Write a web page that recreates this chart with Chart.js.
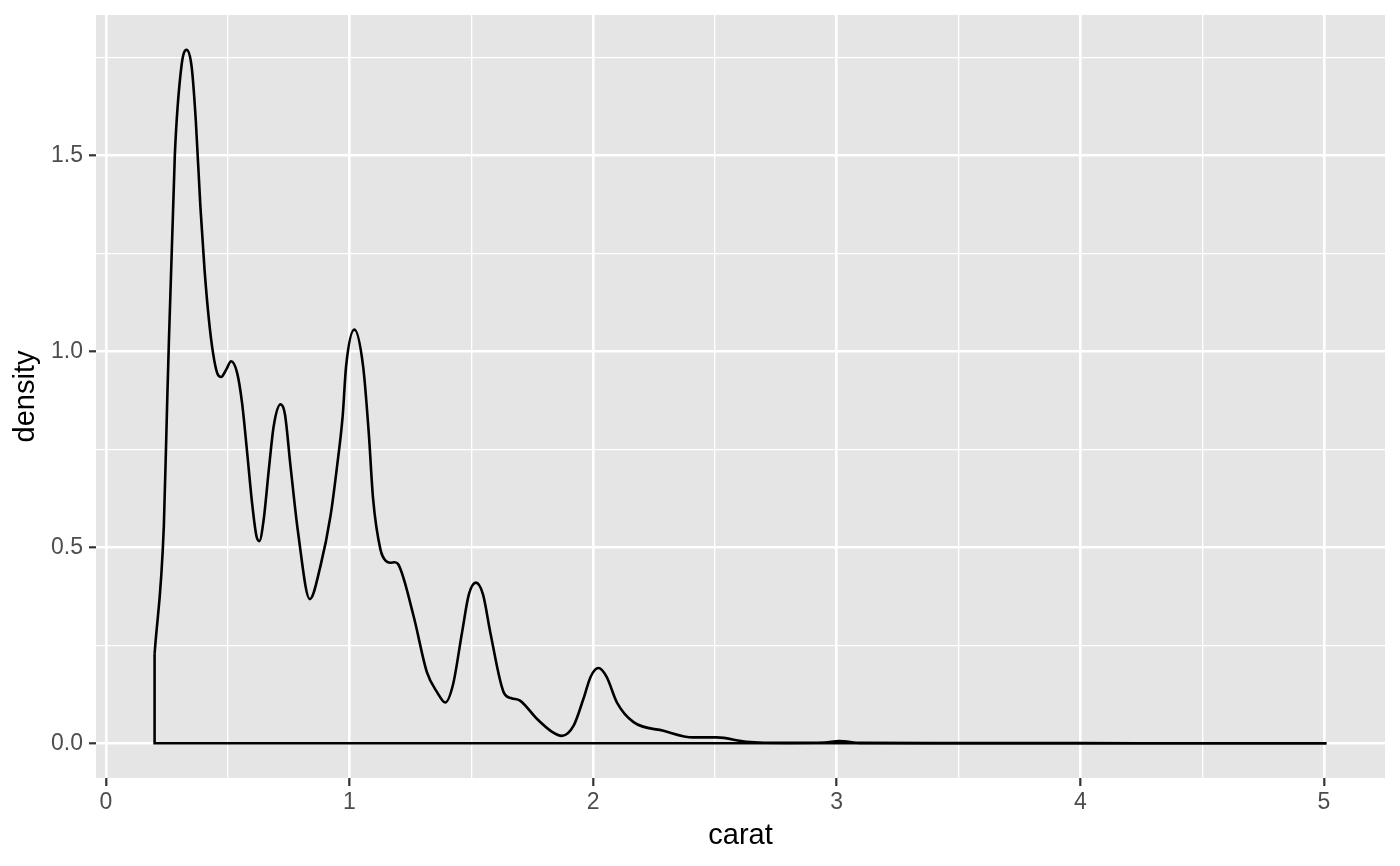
<!DOCTYPE html>
<html>
<head>
<meta charset="utf-8">
<script src="https://cdn.jsdelivr.net/npm/chart.js@4.4.1/dist/chart.umd.min.js"></script>
<style>
  html, body { margin: 0; padding: 0; background: #FFFFFF; }
</style>
</head>
<body>
<canvas id="densityChart" width="1400" height="866"></canvas>
<script>
// density estimate of carat
const carat = [0.20, 0.238, 0.252, 0.283, 0.31, 0.331, 0.352, 0.369, 0.388, 0.405, 0.423, 0.44, 0.457, 0.473, 0.495, 0.514, 0.539, 0.559, 0.58, 0.60, 0.618, 0.63, 0.648, 0.669, 0.689, 0.717, 0.735, 0.758, 0.789, 0.837, 0.881, 0.922, 0.949, 0.972, 0.986, 1.02, 1.056, 1.079, 1.097, 1.127, 1.15, 1.168, 1.185, 1.20, 1.263, 1.318, 1.36, 1.393, 1.425, 1.462, 1.49, 1.519, 1.548, 1.578, 1.633, 1.665, 1.70, 1.77, 1.83, 1.872, 1.92, 1.96, 1.99, 2.022, 2.055, 2.098, 2.166, 2.289, 2.41, 2.508, 2.63, 2.80, 2.95, 3.01, 3.1, 3.5, 4.0, 4.5, 5.01];
const density = [0.228, 0.555, 0.878, 1.50, 1.727, 1.77, 1.727, 1.591, 1.37, 1.209, 1.081, 0.996, 0.945, 0.935, 0.955, 0.975, 0.945, 0.869, 0.742, 0.614, 0.529, 0.516, 0.572, 0.699, 0.81, 0.865, 0.84, 0.707, 0.538, 0.368, 0.453, 0.58, 0.707, 0.835, 0.962, 1.056, 0.962, 0.793, 0.623, 0.495, 0.465, 0.461, 0.462, 0.457, 0.325, 0.181, 0.13, 0.104, 0.15, 0.283, 0.38, 0.41, 0.38, 0.283, 0.13, 0.115, 0.109, 0.062, 0.03, 0.019, 0.045, 0.113, 0.17, 0.192, 0.17, 0.104, 0.054, 0.032, 0.015, 0.015, 0.004, 0.001, 0.002, 0.006, 0.001, 0.0005, 0.0003, 0.0002, 0];

// the polygon's left edge and floor
const baseX = [0.20, 0.20, 5.01];
const baseY = [0.228, 0, 0];

const xTicks = [0, 0.5, 1, 1.5, 2, 2.5, 3, 3.5, 4, 4.5, 5];
const yTicks = [0, 0.25, 0.5, 0.75, 1, 1.25, 1.5, 1.75];
const xMin = -0.0405, xMax = 5.2505;
const yMin = -0.0886, yMax = 1.859;

const isMajorX = v => Number.isInteger(v);
const isMajorY = v => Math.abs(v * 2 - Math.round(v * 2)) < 1e-9;

const panelBackground = {
  id: 'panelBackground',
  beforeDraw(chart) {
    const { ctx, chartArea } = chart;
    ctx.save();
    ctx.fillStyle = '#E5E5E5';
    ctx.fillRect(chartArea.left, chartArea.top, chartArea.width, chartArea.height);
    ctx.restore();
  }
};

const ctx = document.getElementById('densityChart').getContext('2d');
new Chart(ctx, {
  type: 'line',
  data: {
    datasets: [
      {
        label: 'density',
        data: carat.map((c, i) => ({ x: c, y: density[i] })),
        borderColor: '#000000',
        borderWidth: 2.6,
        pointRadius: 0,
        fill: false,
        cubicInterpolationMode: 'monotone'
      },
      {
        label: 'base',
        data: baseX.map((c, i) => ({ x: c, y: baseY[i] })),
        borderColor: '#000000',
        borderWidth: 2.6,
        pointRadius: 0,
        fill: false,
        tension: 0
      }
    ]
  },
  options: {
    responsive: false,
    animation: false,
    layout: { padding: { top: 15, right: 15, left: 0, bottom: 0 } },
    plugins: {
      legend: { display: false },
      tooltip: { enabled: false }
    },
    scales: {
      x: {
        type: 'linear',
        min: xMin,
        max: xMax,
        afterBuildTicks: axis => { axis.ticks = xTicks.map(v => ({ value: v })); },
        afterFit: axis => { axis.height = 88; axis.paddingLeft = 0; axis.paddingRight = 0; },
        border: { display: false },
        grid: {
          color: '#FFFFFF',
          lineWidth: c => (c.tick && isMajorX(c.tick.value)) ? 2.6 : 1.3,
          tickColor: c => (c.tick && isMajorX(c.tick.value)) ? '#333333' : 'rgba(0,0,0,0)',
          tickLength: 8,
          tickWidth: 2.2
        },
        ticks: {
          autoSkip: false,
          maxRotation: 0,
          padding: 3,
          color: '#4D4D4D',
          font: { family: 'Liberation Sans', size: 23 },
          callback: v => isMajorX(v) ? String(v) : ''
        },
        title: {
          display: true,
          text: 'carat',
          color: '#000000',
          font: { family: 'Liberation Sans', size: 29 },
          padding: { top: 0, bottom: 12.6 }
        }
      },
      y: {
        type: 'linear',
        min: yMin,
        max: yMax,
        afterBuildTicks: axis => { axis.ticks = yTicks.map(v => ({ value: v })); },
        afterFit: axis => { axis.width = 96; axis.paddingTop = 0; axis.paddingBottom = 0; },
        border: { display: false },
        grid: {
          color: '#FFFFFF',
          lineWidth: c => (c.tick && isMajorY(c.tick.value)) ? 2.6 : 1.3,
          tickColor: c => (c.tick && isMajorY(c.tick.value)) ? '#333333' : 'rgba(0,0,0,0)',
          tickLength: 7,
          tickWidth: 2.2
        },
        ticks: {
          autoSkip: false,
          padding: 6,
          color: '#4D4D4D',
          font: { family: 'Liberation Sans', size: 23 },
          callback: v => isMajorY(v) ? v.toFixed(1) : ''
        },
        title: {
          display: true,
          text: 'density',
          color: '#000000',
          font: { family: 'Liberation Sans', size: 29 },
          padding: { top: 9, bottom: 0 }
        }
      }
    }
  },
  plugins: [panelBackground]
});
</script>
</body>
</html>
